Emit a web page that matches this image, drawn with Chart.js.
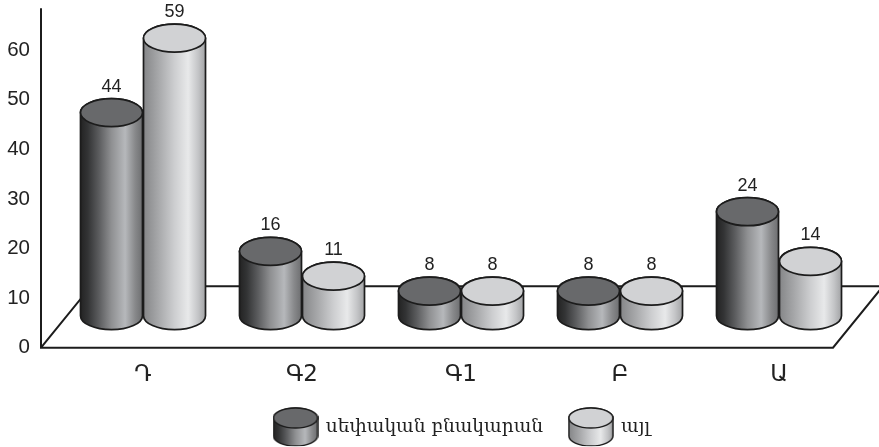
<!DOCTYPE html>
<html><head><meta charset="utf-8">
<style>html,body{margin:0;padding:0;background:#fff}canvas{display:block}</style>
<script src="https://cdn.jsdelivr.net/npm/chart.js@4"></script></head>
<body><canvas id="c" width="879" height="447"></canvas>
<script>
const categories = ['Դ','Գ2','Գ1','Բ','Ա'];
const ownHome = [44,16,8,8,24];
const other = [59,11,8,8,14];
const seriesNames = ['սեփական բնակարան','այլ'];
const darkStops = [[0,'#232323'],[0.12,'#333435'],[0.3,'#5c5d5f'],[0.5,'#8f9092'],[0.72,'#b6b8bb'],[0.88,'#88898b'],[1,'#6d6e70']];
const lightStops = [[0,'#858688'],[0.25,'#a8a9ab'],[0.5,'#cdced0'],[0.72,'#e8e9ea'],[0.88,'#c4c5c7'],[1,'#a2a3a5']];
const palettes = [{stops:darkStops,top:'#68696b'},{stops:lightStops,top:'#d1d2d4'}];
const INK = '#1c1c1c';

function cylinder(ctx,cx,topY,baseY,rx,ry,pal,lw){
  const g = ctx.createLinearGradient(cx-rx,0,cx+rx,0);
  pal.stops.forEach(s=>g.addColorStop(s[0],s[1]));
  ctx.save();
  ctx.lineWidth = lw; ctx.strokeStyle = INK;
  ctx.beginPath();
  ctx.moveTo(cx-rx,topY);
  ctx.lineTo(cx-rx,baseY);
  ctx.ellipse(cx,baseY,rx,ry,0,Math.PI,0,true);
  ctx.lineTo(cx+rx,topY);
  ctx.ellipse(cx,topY,rx,ry,0,0,Math.PI,true);
  ctx.closePath();
  ctx.fillStyle = g; ctx.fill(); ctx.stroke();
  ctx.beginPath();
  ctx.ellipse(cx,topY,rx,ry,0,0,Math.PI*2);
  ctx.fillStyle = pal.top; ctx.fill(); ctx.stroke();
  ctx.restore();
}
function swatch(pal){
  const cv = document.createElement('canvas');
  cv.width = 46; cv.height = 40;
  cylinder(cv.getContext('2d'),23,11,29,22,10,pal,1.5);
  return cv;
}
const swatches = palettes.map(swatch);

const cylinders = {
  id:'cylinders',
  afterLayout(chart){
    const l = chart.legend;
    const w = l.right-l.left;
    l.left = 274.5-chart.options.plugins.legend.labels.padding; l.right = l.left+w;
    l.top = 391; l.bottom = l.top+(l.height||0);
  },
  beforeDatasetsDraw(chart){
    const {ctx,chartArea:a,scales:{y}} = chart;
    const zero = y.getPixelForValue(0), left = a.left-22.5, front = a.right-25.5, back = zero-61.5;
    ctx.save();
    ctx.strokeStyle = INK; ctx.lineWidth = 2; ctx.lineCap='butt';
    ctx.beginPath();
    ctx.moveTo(left,a.top-4); ctx.lineTo(left,zero+1);
    ctx.moveTo(left,zero); ctx.lineTo(front,zero);
    ctx.lineTo(front+50,back); ctx.lineTo(front+46,back);
    ctx.lineTo(left+50,back); ctx.lineTo(left,zero);
    ctx.stroke();
    ctx.restore();
  },
  afterDatasetsDraw(chart){
    const {ctx,scales:{y}} = chart;
    const bottom = y.getPixelForValue(0)-18, ry = 14;
    chart.data.datasets.forEach((ds,i)=>{
      chart.getDatasetMeta(i).data.forEach((el,j)=>{
        const top = el.y-17;
        cylinder(ctx,el.x,top,bottom-ry,el.width/2-0.5,ry,palettes[i],1.7);
        ctx.save();
        ctx.fillStyle = '#222'; ctx.font = '18px "Liberation Sans"';
        ctx.textAlign='center'; ctx.textBaseline='middle';
        ctx.fillText(String(ds.data[j]),el.x,top-ry-12);
        ctx.restore();
      });
    });
  }
};

new Chart(document.getElementById('c'),{
  type:'bar',
  data:{labels:categories,datasets:[
    {label:seriesNames[0],data:ownHome,backgroundColor:'transparent'},
    {label:seriesNames[1],data:other,backgroundColor:'transparent'}
  ]},
  options:{
    responsive:false,animation:false,
    devicePixelRatio:1,
    layout:{padding:{top:8,right:20.5,left:0,bottom:0}},
    datasets:{bar:{categoryPercentage:0.7925,barPercentage:1}},
    plugins:{
      tooltip:{enabled:false},
      legend:{display:true,position:'bottom',align:'start',
        labels:{
          usePointStyle:true,pointStyleWidth:42,padding:26.7,color:'#222',
          font:{family:'"DejaVu Serif"',size:18.6},
          generateLabels:ch=>ch.data.datasets.map((d,i)=>({text:d.label,pointStyle:swatches[i],datasetIndex:i,hidden:false,fontColor:'#222',lineWidth:0}))
        }}
    },
    scales:{
      x:{grid:{display:false,drawTicks:false},border:{display:false},
         afterFit:s=>{s.height=44;},
         ticks:{padding:14,color:'#222',font:{family:'"DejaVu Sans"',size:23},maxRotation:0}},
      y:{min:0,max:67.65,grid:{display:false,drawTicks:true,tickLength:33.5},border:{display:false},
         afterFit:s=>{s.width=63.5;},
         ticks:{stepSize:10,includeBounds:false,padding:0,color:'#222',font:{family:'"Liberation Sans"',size:20.5}}}
    }
  },
  plugins:[cylinders]
});
</script></body></html>
